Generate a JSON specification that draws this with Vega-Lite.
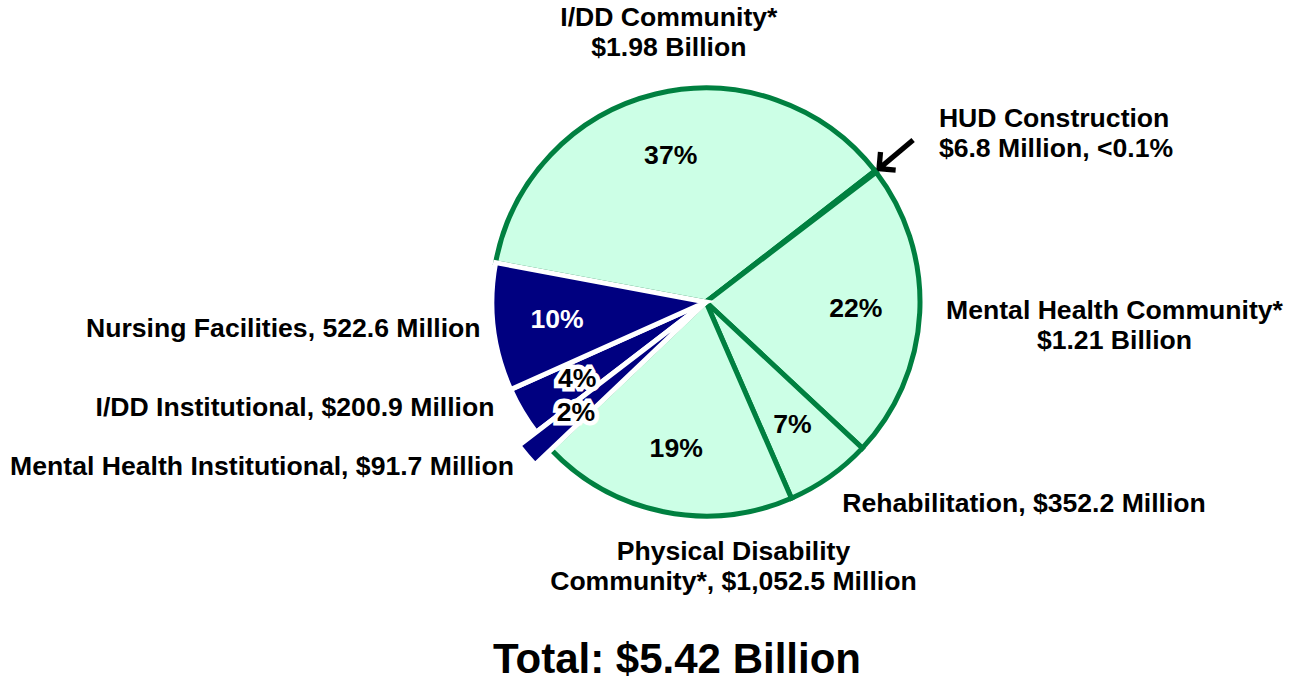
{
  "$schema": "https://vega.github.io/schema/vega-lite/v6.json",
  "width": 1168,
  "height": 604,
  "autosize": {"type": "none"},
  "padding": {"left": 122, "top": 0, "right": 0, "bottom": 77},
  "background": "white",
  "config": {"view": {"stroke": null}},
  "data": {"values": [
    {"idx": 1, "name": "I/DD Community", "group": "community", "value": 1980, "pct": "37%", "label": "I/DD Community*\n$1.98 Billion"},
    {"idx": 2, "name": "HUD Construction", "group": "community", "value": 6.8, "pct": "", "label": "HUD Construction\n$6.8 Million, <0.1%"},
    {"idx": 3, "name": "Mental Health Community", "group": "community", "value": 1210, "pct": "22%", "label": "Mental Health Community*\n$1.21 Billion"},
    {"idx": 4, "name": "Rehabilitation", "group": "community", "value": 352.2, "pct": "7%", "label": "Rehabilitation, $352.2 Million"},
    {"idx": 5, "name": "Physical Disability Community", "group": "community", "value": 1052.5, "pct": "19%", "label": "Physical Disability\nCommunity*, $1,052.5 Million"},
    {"idx": 6, "name": "Mental Health Institutional", "group": "institutional", "value": 91.7, "pct": "2%", "label": "Mental Health Institutional, $91.7 Million"},
    {"idx": 7, "name": "I/DD Institutional", "group": "institutional", "value": 200.9, "pct": "4%", "label": "I/DD Institutional, $200.9 Million"},
    {"idx": 8, "name": "Nursing Facilities", "group": "institutional", "value": 522.6, "pct": "10%", "label": "Nursing Facilities, 522.6 Million"}
  ]},
  "encoding": {
    "theta": {"field": "value", "type": "quantitative", "stack": true, "scale": {"range": [-1.3858, 4.8974]}},
    "order": {"field": "idx", "type": "quantitative"}
  },
  "layer": [
    {
      "mark": {"type": "arc", "radius": 214, "strokeWidth": 5},
      "encoding": {
        "fill": {"field": "group", "type": "nominal", "scale": {"domain": ["community", "institutional"], "range": ["#CCFFE6", "#000080"]}, "legend": null},
        "stroke": {"condition": {"test": "datum.group === 'institutional'", "value": "white"}, "value": "#008040"}
      }
    },
    {
      "mark": {"type": "arc", "radius": 236, "strokeWidth": 5, "stroke": "white", "fill": "#000080"},
      "encoding": {
        "opacity": {"condition": {"test": "datum.idx === 6", "value": 1}, "value": 0}
      }
    },
    {
      "mark": {"type": "text", "radius": 150, "font": "Liberation Sans", "fontWeight": "bold", "fontSize": 26.6, "align": "center", "baseline": "middle"},
      "encoding": {
        "text": {"condition": {"test": "datum.idx !== 6 && datum.idx !== 7", "field": "pct"}, "value": ""},
        "color": {"condition": {"test": "datum.idx === 8", "value": "white"}, "value": "black"}
      }
    },
    {
      "mark": {"type": "text", "radius": 150, "font": "Liberation Sans", "fontWeight": "bold", "fontSize": 26.6, "align": "center", "baseline": "middle", "stroke": "white", "strokeWidth": 9, "strokeJoin": "miter", "strokeMiterLimit": 2, "fill": "white"},
      "encoding": {"text": {"condition": {"test": "datum.idx === 7", "field": "pct"}, "value": ""}}
    },
    {
      "mark": {"type": "text", "radius": 171, "font": "Liberation Sans", "fontWeight": "bold", "fontSize": 26.6, "align": "center", "baseline": "middle", "stroke": "white", "strokeWidth": 9, "strokeJoin": "miter", "strokeMiterLimit": 2, "fill": "white"},
      "encoding": {"text": {"condition": {"test": "datum.idx === 6", "field": "pct"}, "value": ""}}
    },
    {
      "mark": {"type": "text", "radius": 150, "font": "Liberation Sans", "fontWeight": "bold", "fontSize": 26.6, "align": "center", "baseline": "middle", "fill": "black"},
      "encoding": {"text": {"condition": {"test": "datum.idx === 7", "field": "pct"}, "value": ""}}
    },
    {
      "mark": {"type": "text", "radius": 171, "font": "Liberation Sans", "fontWeight": "bold", "fontSize": 26.6, "align": "center", "baseline": "middle", "fill": "black"},
      "encoding": {"text": {"condition": {"test": "datum.idx === 6", "field": "pct"}, "value": ""}}
    },
    {
      "mark": {"type": "text", "radius": 277, "dx": 28, "dy": -15, "font": "Liberation Sans", "fontWeight": "bold", "fontSize": 26.6, "lineBreak": "\n", "lineHeight": 30, "align": "center", "baseline": "middle", "fill": "black"},
      "encoding": {"text": {"condition": {"test": "datum.idx === 1", "field": "label"}, "value": ""}}
    },
    {
      "mark": {"type": "text", "radius": 280, "dx": 11, "dy": -12, "font": "Liberation Sans", "fontWeight": "bold", "fontSize": 26.6, "lineBreak": "\n", "lineHeight": 30, "align": "left", "baseline": "middle", "fill": "black"},
      "encoding": {"text": {"condition": {"test": "datum.idx === 2", "field": "label"}, "value": ""}}
    },
    {
      "mark": {"type": "text", "radius": 240, "angle": -40, "font": "DejaVu Sans", "fontSize": 64, "align": "center", "baseline": "middle", "fill": "black"},
      "encoding": {"text": {"condition": {"test": "datum.idx === 2", "value": "←"}, "value": ""}}
    },
    {
      "mark": {"type": "text", "radius": 409, "dy": -11, "font": "Liberation Sans", "fontWeight": "bold", "fontSize": 26.6, "lineBreak": "\n", "lineHeight": 30, "align": "center", "baseline": "middle", "fill": "black"},
      "encoding": {"text": {"condition": {"test": "datum.idx === 3", "field": "label"}, "value": ""}}
    },
    {
      "mark": {"type": "text", "radius": 245, "dx": -5, "dy": 2, "font": "Liberation Sans", "fontWeight": "bold", "fontSize": 26.6, "align": "left", "baseline": "middle", "fill": "black"},
      "encoding": {"text": {"condition": {"test": "datum.idx === 4", "field": "label"}, "value": ""}}
    },
    {
      "mark": {"type": "text", "radius": 270, "dx": 81, "dy": -15, "font": "Liberation Sans", "fontWeight": "bold", "fontSize": 26.6, "lineBreak": "\n", "lineHeight": 30, "align": "center", "baseline": "middle", "fill": "black"},
      "encoding": {"text": {"condition": {"test": "datum.idx === 5", "field": "label"}, "value": ""}}
    },
    {
      "mark": {"type": "text", "radius": 363, "dx": 43, "dy": 2, "font": "Liberation Sans", "fontWeight": "bold", "fontSize": 42, "align": "center", "baseline": "middle", "fill": "black"},
      "encoding": {"text": {"condition": {"test": "datum.idx === 5", "value": "Total: $5.42 Billion"}, "value": ""}}
    },
    {
      "mark": {"type": "text", "radius": 250, "dx": -2, "dy": 3, "font": "Liberation Sans", "fontWeight": "bold", "fontSize": 26.6, "align": "right", "baseline": "middle", "fill": "black"},
      "encoding": {"text": {"condition": {"test": "datum.idx === 6", "field": "label"}, "value": ""}}
    },
    {
      "mark": {"type": "text", "radius": 230, "dx": -14, "dy": -12, "font": "Liberation Sans", "fontWeight": "bold", "fontSize": 26.6, "align": "right", "baseline": "middle", "fill": "black"},
      "encoding": {"text": {"condition": {"test": "datum.idx === 7", "field": "label"}, "value": ""}}
    },
    {
      "mark": {"type": "text", "radius": 227, "font": "Liberation Sans", "fontWeight": "bold", "fontSize": 26.6, "align": "right", "baseline": "middle", "fill": "black"},
      "encoding": {"text": {"condition": {"test": "datum.idx === 8", "field": "label"}, "value": ""}}
    }
  ]
}
